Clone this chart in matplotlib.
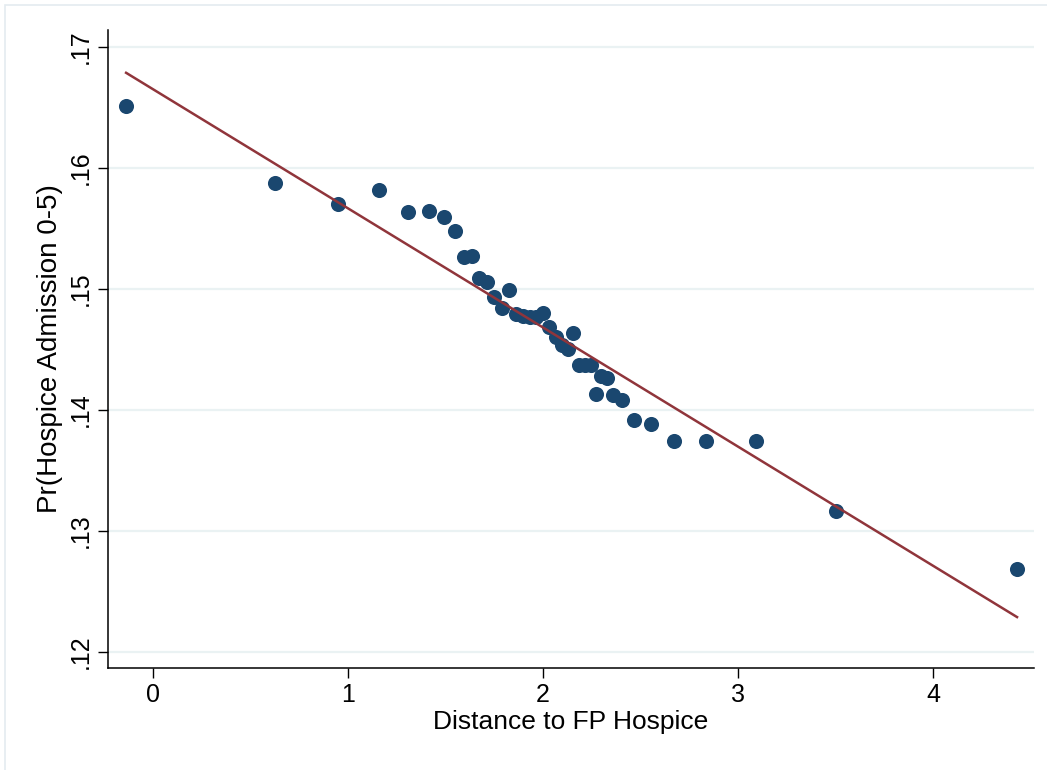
import matplotlib
matplotlib.use("Agg")
import matplotlib.pyplot as plt
from matplotlib.patches import Rectangle
import numpy as np

# Binned data (distance to for-profit hospice vs probability of hospice admission)
distance = [-0.138, 0.626, 0.949, 1.159, 1.308, 1.415, 1.492, 1.549, 1.595, 1.636,
            1.672, 1.713, 1.749, 1.790, 1.826, 1.862, 1.897, 1.933, 1.964, 2.000,
            2.031, 2.067, 2.097, 2.128, 2.154, 2.185, 2.215, 2.246, 2.272, 2.297,
            2.328, 2.359, 2.405, 2.467, 2.554, 2.672, 2.836, 3.092, 3.503, 4.431]
prob = [0.16512, 0.15876, 0.15702, 0.15818, 0.15636, 0.15645, 0.15595, 0.15479, 0.15264, 0.15273,
        0.15091, 0.15058, 0.14934, 0.14843, 0.14992, 0.14793, 0.14777, 0.14769, 0.14769, 0.14802,
        0.14686, 0.14603, 0.14537, 0.14504, 0.14636, 0.14372, 0.14372, 0.14372, 0.14132, 0.14281,
        0.14264, 0.14124, 0.14083, 0.13917, 0.13884, 0.13744, 0.13744, 0.13744, 0.13165, 0.12686]

# Fitted line (intercept, slope)
fit_intercept = 0.16651
fit_slope = -0.009845

x_ticks = [0, 1, 2, 3, 4]
y_ticks = [0.12, 0.13, 0.14, 0.15, 0.16, 0.17]
y_ticklabels = [".12", ".13", ".14", ".15", ".16", ".17"]

plt.rcParams['font.family'] = ['Liberation Sans', 'DejaVu Sans']

fig = plt.figure(figsize=(10.47, 7.70), dpi=100)
fig.patch.set_facecolor("white")

# outer graph-region frame
fig.patches.append(Rectangle((5/1047, -0.01), 1.1, 1 - 4.5/770 + 0.01,
                             transform=fig.transFigure, fill=False,
                             edgecolor="#e4ebf0", linewidth=1.2))

ax = fig.add_axes([108/1047, 1 - 668/770, (1034 - 108)/1047, (668 - 30)/770])

x_lo = (108 - 153) / 195
x_hi = (1034 - 153) / 195
y_hi = 0.17 + (47 - 30) / 12100
y_lo = 0.12 - (668 - 652) / 12100
ax.set_xlim(x_lo, x_hi)
ax.set_ylim(y_lo, y_hi)

for yt in y_ticks:
    ax.axhline(yt, color="#eaf2f3", linewidth=1.6, zorder=0)

ax.scatter(distance, prob, s=118, color="#1a476f", zorder=3, linewidths=0)

xf = np.array([min(distance), max(distance)])
ax.plot(xf, fit_intercept + fit_slope * xf, color="#90353b", linewidth=1.8, zorder=4)

ax.spines['top'].set_visible(False)
ax.spines['right'].set_visible(False)
ax.spines['left'].set_linewidth(1.1)
ax.spines['bottom'].set_linewidth(1.1)

ax.set_xticks(x_ticks)
ax.set_xticklabels([str(t) for t in x_ticks], fontsize=18)
ax.set_yticks(y_ticks)
ax.set_yticklabels(y_ticklabels, fontsize=18, rotation=90, va="center")
ax.tick_params(axis="both", direction="out", length=7, width=1.0, pad=4)

ax.set_xlabel("Distance to FP Hospice", fontsize=19, labelpad=2)
ax.set_ylabel("Pr(Hospice Admission 0-5)", fontsize=20, labelpad=4)

fig.savefig("out.png", dpi=100, facecolor="white")
